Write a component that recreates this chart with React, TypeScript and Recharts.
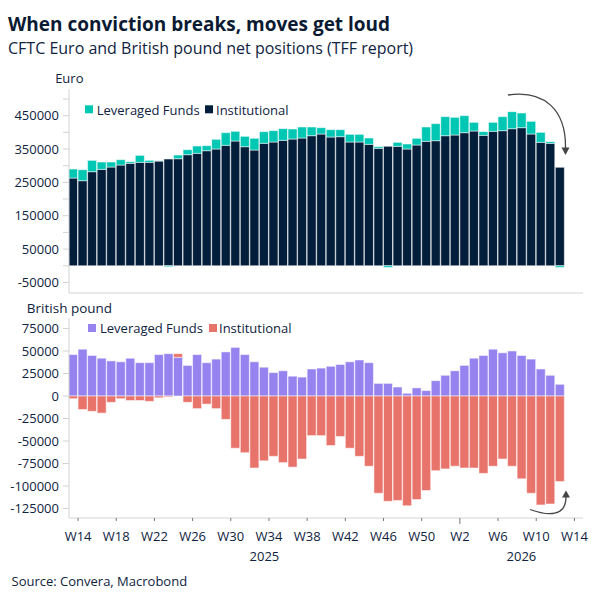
import React from 'react';
import { BarChart, Bar, XAxis, YAxis } from 'recharts';

// CFTC TFF net positions, weekly, W13 2025 .. W13 2026
const euroInstitutional = [
  263000, 255000, 282000, 289000, 296000, 302000, 307000, 310000, 310000, 314000,
  320000, 321000, 333000, 337000, 345000, 350000, 361000, 374000, 357000, 347000,
  367000, 371000, 376000, 380000, 383000, 390000, 395000, 386000, 387000, 371000,
  371000, 364000, 352000, 358000, 358000, 350000, 362000, 373000, 375000, 390000,
  392000, 399000, 404000, 391000, 403000, 405000, 411000, 414000, 395000, 370000,
  367000, 295000,
];
const euroLeveraged = [
  27000, 33000, 34000, 22000, 15000, 16000, 5000, 21000, 6000, 1000,
  -3000, 11000, 15000, 22000, 15000, 29000, 38000, 29000, 31000, 35000,
  35000, 34000, 35000, 30000, 33000, 26000, 19000, 22000, 21000, 23000,
  23000, 19000, 5000, -5000, 12000, 15000, 20000, 43000, 51000, 57000,
  53000, 51000, 26000, 11000, 27000, 42000, 51000, 44000, 38000, 30000,
  5000, -5000,
];
const gbpLeveraged = [
  46000, 52000, 45000, 42000, 39000, 38000, 42000, 37000, 37000, 46000,
  47000, 43000, 34000, 46000, 37000, 41000, 49000, 54000, 46000, 38000,
  32000, 26000, 28000, 22000, 21000, 30000, 31000, 33000, 35000, 38000,
  40000, 37000, 14000, 14000, 10000, 3000, 9000, 6000, 17000, 23000,
  28000, 34000, 42000, 45000, 52000, 48000, 50000, 45000, 41000, 30000,
  23000, 13000,
];
const gbpInstitutional = [
  -3000, -15000, -17000, -19000, -7000, -3000, -5000, -5000, -6000, -2000,
  -1000, 4000, -7000, -14000, -9000, -14000, -26000, -58000, -63000, -80000,
  -72000, -67000, -74000, -79000, -70000, -44000, -44000, -55000, -45000, -58000,
  -67000, -78000, -108000, -117000, -116000, -122000, -115000, -105000, -83000, -81000,
  -78000, -80000, -80000, -86000, -78000, -70000, -78000, -92000, -108000, -121000,
  -120000, -95000,
];

const weekLabels = ['W14', 'W18', 'W22', 'W26', 'W30', 'W34', 'W38', 'W42', 'W46', 'W50', 'W2', 'W6', 'W10', 'W14'];
const yearLabels = ['2025', '2026'];
const euroTicks = [-50000, 0, 50000, 100000, 150000, 200000, 250000, 300000, 350000, 400000, 450000, 500000];
const gbpTicks = [-125000, -100000, -75000, -50000, -25000, 0, 25000, 50000, 75000];

const FONT = '"Open Sans", "Noto Sans", sans-serif';
const INK = '#0f2341';
const AXIS = '#d3d3d3';
const EDGE = 'rgba(255,255,255,0.5)';

// x is measured in weeks from the W14 2025 tick; bar i is the week ending at tick i
const X_DOMAIN: [number, number] = [-0.95, 52.9];
const weekTicks = weekLabels.map((_, i) => i * 4);
const yearBreak = 40; // W2 2026
const yearTicks = [(X_DOMAIN[0] + yearBreak) / 2, (yearBreak + X_DOMAIN[1]) / 2];

const euroData = euroInstitutional.map((v, i) => ({ x: i - 0.5, inst: v, lev: euroLeveraged[i] }));
const gbpData = gbpInstitutional.map((v, i) => ({ x: i - 0.5, inst: v, lev: gbpLeveraged[i] }));

const WeekTick = (props: any) => {
  const { x, y, payload } = props;
  const v = payload.value;
  const yi = yearTicks.indexOf(v);
  if (yi >= 0) {
    return (
      <text x={x} y={y + 43} textAnchor="middle" fill={INK} fontSize={13} fontFamily={FONT}>
        {yearLabels[yi]}
      </text>
    );
  }
  const k = weekTicks.indexOf(v);
  return (
    <g>
      <line x1={x} x2={x} y1={y} y2={y + (v === yearBreak ? 6 : 3)} stroke="#777" />
      <text x={x} y={y + 23} textAnchor="middle" fill={INK} fontSize={13} fontFamily={FONT}>
        {weekLabels[k]}
      </text>
    </g>
  );
};

const yTick = { fill: INK, fontSize: 13, fontFamily: FONT };

export default function App() {
  return (
    <div style={{ position: 'absolute', left: 0, top: 0, width: 600, height: 600, background: '#fff' }}>
      <div style={{ position: 'absolute', left: 0, top: 89 }}>
        <BarChart width={600} height={205} data={euroData} stackOffset="sign"
          margin={{ top: 0, right: 17, bottom: 0, left: 0 }}>
          <XAxis type="number" dataKey="x" domain={X_DOMAIN} allowDataOverflow height={1}
            tick={false} tickLine={false} axisLine={{ stroke: AXIS }} />
          <YAxis width={69} domain={[-81700, 530000]} allowDataOverflow ticks={euroTicks} interval={0}
            tickFormatter={(v: number) => (Math.abs(v / 50000) % 2 === 1 ? String(v) : '')}
            tick={yTick} tickSize={6} tickMargin={4}
            tickLine={{ stroke: AXIS }} axisLine={{ stroke: AXIS }} />
          <Bar dataKey="inst" stackId="a" fill="#031e3a" stroke={EDGE} barSize={9} isAnimationActive={false} />
          <Bar dataKey="lev" stackId="a" fill="#00c6b4" stroke={EDGE} barSize={9} isAnimationActive={false} />
        </BarChart>
      </div>

      <div style={{ position: 'absolute', left: 0, top: 318 }}>
        <BarChart width={600} height={250} data={gbpData} stackOffset="sign"
          margin={{ top: 0, right: 17, bottom: 0, left: 0 }}>
          <XAxis type="number" dataKey="x" domain={X_DOMAIN} allowDataOverflow height={50}
            ticks={[...weekTicks, ...yearTicks]} interval={0} tickSize={0} tickMargin={0}
            tick={<WeekTick />} tickLine={false} axisLine={{ stroke: AXIS }} />
          <YAxis width={69} domain={[-135555, 86667]} allowDataOverflow ticks={gbpTicks} interval={0}
            tick={yTick} tickSize={6} tickMargin={4}
            tickLine={{ stroke: AXIS }} axisLine={{ stroke: AXIS }} />
          <Bar dataKey="lev" stackId="a" fill="#9683ef" stroke={EDGE} barSize={9} isAnimationActive={false} />
          <Bar dataKey="inst" stackId="a" fill="#e8736a" stroke={EDGE} barSize={9} isAnimationActive={false} />
        </BarChart>
      </div>

      <svg width={600} height={600} style={{ position: 'absolute', left: 0, top: 0, pointerEvents: 'none' }}
        fontFamily={FONT}>
        <text x={8} y={30.7} fontSize={19} fontWeight={700} fill="#0b1a33">When conviction breaks, moves get loud</text>
        <text x={8} y={54} fontSize={16} fill={INK}>CFTC Euro and British pound net positions (TFF report)</text>

        <text x={69.3} y={82.7} fontSize={13} fill={INK} textAnchor="middle">Euro</text>
        <rect x={85} y={105.3} width={8} height={8} fill="#00c6b4" />
        <text x={96.7} y={115} fontSize={13} fill={INK}>Leveraged Funds</text>
        <rect x={205} y={105.3} width={8} height={8} fill="#031e3a" />
        <text x={216} y={115} fontSize={13} fill={INK}>Institutional</text>

        <text x={69.5} y={312.7} fontSize={13.5} fill={INK} textAnchor="middle">British pound</text>
        <rect x={88} y={324} width={8} height={8} fill="#9683ef" />
        <text x={100} y={333.3} fontSize={13} fill={INK}>Leveraged Funds</text>
        <rect x={209} y={324} width={8} height={8} fill="#e8736a" />
        <text x={219} y={333.3} fontSize={13} fill={INK}>Institutional</text>

        <path d="M508,95 C545,90 566,110 565.5,148" fill="none" stroke="#454545" strokeWidth={1.3} />
        <path d="M561.5,147.5 L569.5,147.5 L565.5,155 Z" fill="#454545" />
        <path d="M530,509.5 C548,516 566,517 566,497" fill="none" stroke="#454545" strokeWidth={1.3} />
        <path d="M562,497.5 L570,497.5 L566,490.5 Z" fill="#454545" />

        <text x={11.5} y={586} fontSize={13} fill={INK}>Source: Convera, Macrobond</text>
      </svg>
    </div>
  );
}
